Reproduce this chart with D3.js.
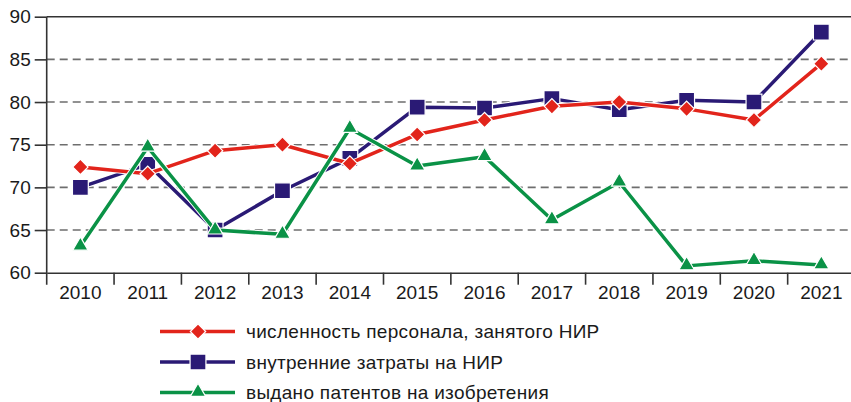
<!DOCTYPE html>
<html><head><meta charset="utf-8">
<script src="https://cdn.jsdelivr.net/npm/d3@7"></script>
<style>
html,body{margin:0;padding:0;background:#fff;overflow:hidden}
svg text{font-family:"Liberation Sans",Arial,sans-serif;fill:#1a1a1a}
</style></head>
<body>
<svg id="chart" width="851" height="402"></svg>
<script>
const years = ["2010","2011","2012","2013","2014","2015","2016","2017","2018","2019","2020","2021"];
const personnel = [72.4,71.6,74.3,75.0,72.8,76.2,77.9,79.5,80.0,79.2,77.9,84.5];
const costs = [70.0,72.7,65.0,69.6,73.4,79.4,79.3,80.4,79.1,80.2,80.0,88.2];
const patents = [63.1,74.7,65.0,64.5,76.9,72.5,73.6,66.2,70.6,60.8,61.4,60.9];
const yTicks = [60,65,70,75,80,85,90];
const seriesNames = ["численность персонала, занятого НИР","внутренние затраты на НИР","выдано патентов на изобретения"];
const colors = ["#e2241b","#2a1a75","#0a9246"];

(function(){
const svg = d3.select("#chart");
const mLeft = 46.7, mTop = 16.7, mBottom = 272.7, bw = 67.36;
const mRight = mLeft + bw*years.length;
const x = d3.scaleBand().domain(years).range([mLeft,mRight]);
const y = d3.scaleLinear().domain([60,90]).range([mBottom,mTop]);

// grid
svg.append("g").selectAll("line").data(yTicks.filter(d=>d>60&&d<90)).join("line")
  .attr("x1",mLeft).attr("x2",mRight).attr("y1",d=>y(d)).attr("y2",d=>y(d))
  .attr("stroke","#6e6e6e").attr("stroke-width",1.6).attr("stroke-dasharray","8,5");
// top border
svg.append("line").attr("x1",mLeft).attr("x2",mRight).attr("y1",y(90)).attr("y2",y(90))
  .attr("stroke","#333").attr("stroke-width",1.6);

// y axis
const yAxis = d3.axisLeft(y).tickValues(yTicks).tickSize(12).tickPadding(4);
const gy = svg.append("g").attr("transform",`translate(${mLeft},0)`).call(yAxis);
gy.select(".domain").remove();
gy.selectAll(".tick line").attr("stroke","#333").attr("stroke-width",1.6);
gy.selectAll(".tick text").attr("font-size","19px").attr("fill","#1a1a1a");
svg.append("line").attr("x1",mLeft).attr("x2",mLeft).attr("y1",mTop).attr("y2",mBottom+12)
  .attr("stroke","#333").attr("stroke-width",1.6);

// x axis
const gx = svg.append("g").attr("transform",`translate(0,${mBottom})`)
  .call(d3.axisBottom(x).tickSize(0).tickPadding(13));
gx.select(".domain").attr("stroke","#333").attr("stroke-width",1.6);
gx.selectAll(".tick text").attr("font-size","19px").attr("fill","#1a1a1a");
svg.append("g").selectAll("line").data(years.slice(1)).join("line")
  .attr("x1",d=>x(d)).attr("x2",d=>x(d)).attr("y1",mBottom).attr("y2",mBottom+12)
  .attr("stroke","#333").attr("stroke-width",1.6);

const cx = d=>x(d)+x.bandwidth()/2;
function marker(g, i, px, py){
  let s, tr;
  if(i===0){ s = d3.symbol().type(d3.symbolSquare2).size(150); tr = `translate(${px},${py}) rotate(45)`; }
  else if(i===1){ s = d3.symbol().type(d3.symbolSquare2).size(320); tr = `translate(${px},${py})`; }
  else { s = d3.symbol().type(d3.symbolTriangle2).size(170); tr = `translate(${px},${py-0.5})`; }
  g.append("path").attr("d",s()).attr("fill",colors[i])
    .attr("stroke","#fff").attr("stroke-width",1.2).attr("transform",tr);
}

const data = [personnel,costs,patents];
const order = [1,0,2];
order.forEach(i=>{
  const g = svg.append("g");
  const line = d3.line().x((d,j)=>cx(years[j])).y(d=>y(d));
  g.append("path").attr("d",line(data[i])).attr("fill","none")
    .attr("stroke","#fff").attr("stroke-width",5.5).attr("stroke-linejoin","round");
  g.append("path").attr("d",line(data[i])).attr("fill","none")
    .attr("stroke",colors[i]).attr("stroke-width",3.5).attr("stroke-linejoin","round");
  data[i].forEach((v,j)=>marker(g,i,cx(years[j]),y(v)));
});

// legend
const ly = [331.5, 362, 392.5];
seriesNames.forEach((name,i)=>{
  const g = svg.append("g");
  g.append("line").attr("x1",160).attr("x2",235).attr("y1",ly[i]).attr("y2",ly[i])
    .attr("stroke",colors[i]).attr("stroke-width",3.5);
  marker(g,i,198,ly[i]);
  g.append("text").attr("x",246).attr("y",ly[i]).attr("dy","0.35em")
    .attr("font-size","19px").attr("letter-spacing","0.3px").text(name);
});
})();
</script>
</body></html>
